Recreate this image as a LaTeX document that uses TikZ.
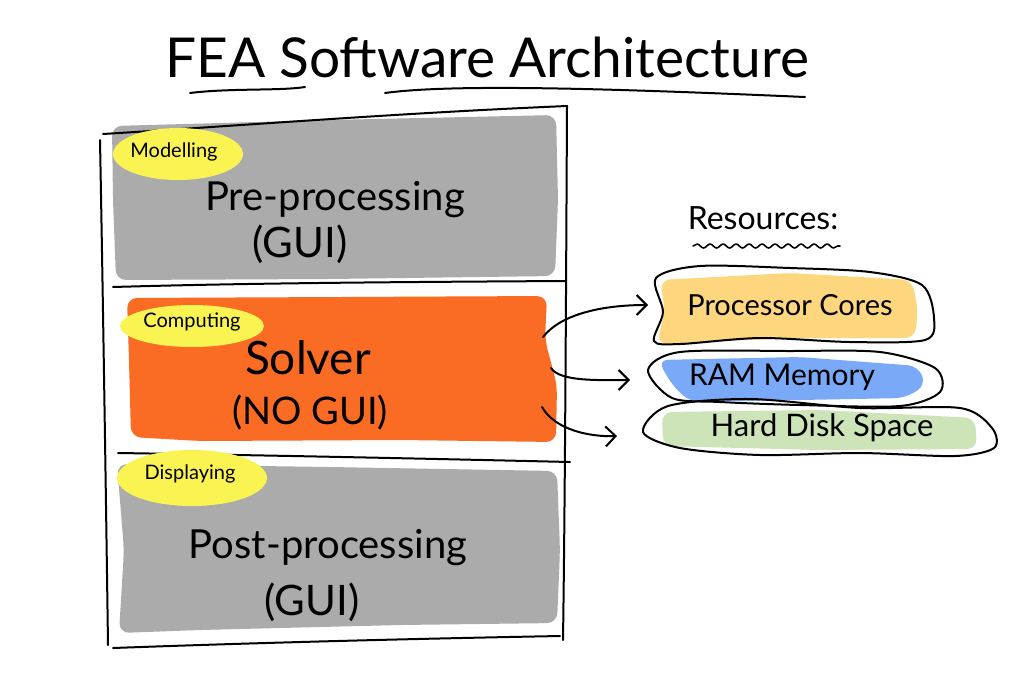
\documentclass[tikz,border=0pt]{standalone}
\usepackage{fontspec}
\setmainfont{Lato}
\usetikzlibrary{arrows.meta,decorations.pathmorphing}
\definecolor{boxgray}{HTML}{ABABAB}
\definecolor{solverorange}{HTML}{FA6B23}
\definecolor{hlyellow}{HTML}{F9F452}
\definecolor{cpuyellow}{HTML}{FDD67E}
\definecolor{ramblue}{HTML}{79A9F7}
\definecolor{diskgreen}{HTML}{CCE4B8}
\tikzset{
  pen/.style={line width=2pt, line cap=round, line join=round, draw=black},
  hl/.style={fill=hlyellow, draw=none},
  fs/.style={font=\fontsize{#1}{#1}\selectfont, inner sep=0pt},
  arr/.style={pen, -{Straight Barb[length=10pt,width=20pt,line width=2pt]}},
  panel/.style={rounded corners=10pt},
}
\begin{document}
\begin{tikzpicture}[x=1pt,y=-1pt]
\useasboundingbox[fill=white] (0,0) rectangle (1024,689);

% ---------- title ----------
\node[fs=55, anchor=base] (title) at (487,77) {FEA Software Architecture};
\draw[pen] (190,93) .. controls (230,88) and (280,91) .. (305,87);
\draw[pen] (385,93) .. controls (450,84) and (600,88) .. (805,97);

% ---------- fills ----------
\fill[boxgray, panel] (112,126) -- (330,120) -- (556,115) -- (558,200) -- (555,276)
  -- (330,279) -- (116,280) -- (113,200) -- cycle;
\fill[solverorange, panel] (127,298) -- (340,297) -- (547,296) -- (545,340) -- (557,385)
  -- (556,442) -- (400,440) -- (200,441) -- (131,437) -- (129,360) -- cycle;
\fill[boxgray, panel] (117,464) -- (330,467) -- (557,471) -- (560,550) -- (557,623)
  -- (400,625) -- (200,630) -- (119,633) -- (124,550) -- cycle;

% ---------- frame ----------
\draw[pen] (103,134) .. controls (250,125) and (400,113) .. (567,106);
\draw[pen] (100,140) .. controls (103,300) and (106,500) .. (108,645);
\draw[pen] (567,106) .. controls (566,300) and (565,500) .. (563,640);
\draw[pen] (113,287) .. controls (250,283) and (400,282) .. (565,281);
\draw[pen] (118,453) .. controls (250,455) and (400,458) .. (570,462);
\draw[pen] (113,648) .. controls (250,643) and (400,639) .. (560,636);

% ---------- highlights ----------
\fill[hl] (178,154) ellipse [x radius=65, y radius=26];
\fill[hl] (192,326) ellipse [x radius=72, y radius=21];
\fill[hl] (192,478) ellipse [x radius=75, y radius=28];
\node[fs=20] (model) at (174,152) {Modelling};
\node[fs=20] (comp) at (192,322) {Computing};
\node[fs=20] (disp) at (190,474) {Displaying};

% ---------- block texts ----------
\node[fs=40] (pre) at (335,200) {Pre-processing};
\node[fs=42] (pregui) at (300,244) {(GUI)};
\node[fs=46] (solver) at (308,358) {Solver};
\node[fs=38] (nogui) at (310,413) {(NO GUI)};
\node[fs=40] (post) at (328,548) {Post-processing};
\node[fs=42] (postgui) at (312,602) {(GUI)};

% ---------- resources ----------
\node[fs=32] (res) at (763,218) {Resources:};
\draw[pen, line width=1.6pt, decorate, decoration={snake, amplitude=2pt, segment length=13pt}] (693,246) -- (840,246);

\fill[cpuyellow, panel] (660,280) -- (790,273) -- (912,280) -- (918,310) -- (915,338)
  -- (790,338) -- (657,344) -- (665,310) -- cycle;
\draw[pen] plot[smooth cycle, tension=0.5] coordinates
  {(656,278) (700,266) (790,268) (870,272) (922,285) (934,318) (925,340) (850,342) (760,338) (680,344) (654,341) (663,312)};
\node[fs=29] (cpu) at (790,305) {Processor Cores};

\fill[ramblue, panel] (658,360) -- (800,357) -- (918,366) -- (926,385) -- (905,398)
  -- (800,400) -- (690,402) -- (672,385) -- cycle;
\draw[pen] plot[smooth cycle, tension=0.5] coordinates
  {(648,370) (680,352) (790,351) (880,352) (935,368) (940,392) (900,406) (800,405) (720,402) (672,398)};
\node[fs=30] (ram) at (782,377) {RAM Memory};

\fill[diskgreen, panel] (662,412) -- (820,410) -- (975,418) -- (977,449)
  -- (820,450) -- (663,446) -- cycle;
\draw[pen] plot[smooth cycle, tension=0.5] coordinates
  {(643,432) (668,406) (750,399) (860,408) (960,408) (992,428) (994,448) (955,456) (860,453) (760,455) (680,448)};
\node[fs=31] (hdd) at (822,428) {Hard Disk Space};

% ---------- arrows ----------
\coordinate (s1) at (543,337);
\coordinate (e1) at (648,305);
\coordinate (s2) at (551,368);
\coordinate (e2) at (630,380);
\coordinate (s3) at (542,407);
\coordinate (e3) at (617,436);
\draw[arr] (s1) .. controls (560,315) and (600,305) .. (e1);
\draw[arr] (s2) .. controls (560,382) and (600,380) .. (e2);
\draw[arr] (s3) .. controls (555,430) and (590,437) .. (e3);
\end{tikzpicture}
\end{document}
